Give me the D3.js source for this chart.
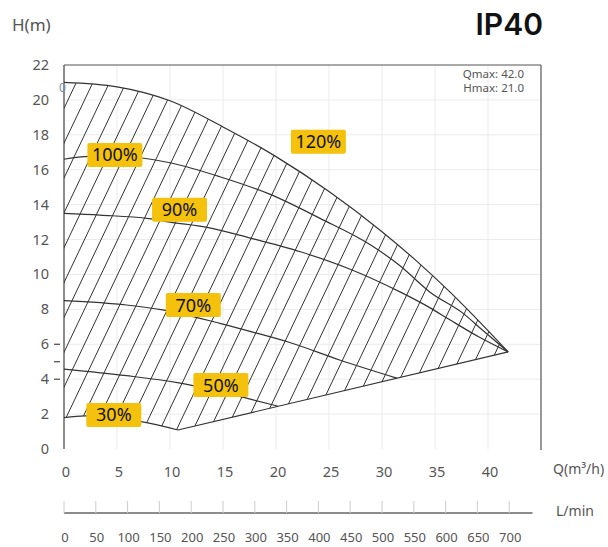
<script src="https://d3js.org/d3.v7.min.js"></script>

<html>
<head>
<style>
    body { margin: 0; background: #fff; }
    text { font-family: "Noto Sans", "Open Sans", sans-serif; }
</style>
</head>
<body>
<div id="myPlot"></div>
</body>
<script>

    const width = 608;
    const height = 547;

    // axis ticks
    const qTicks = [0, 5, 10, 15, 20, 25, 30, 35, 40];
    const hTicks = [0, 2, 4, 6, 8, 10, 12, 14, 16, 18, 20, 22];
    const lminTicks = [0, 50, 100, 150, 200, 250, 300, 350, 400, 450, 500, 550, 600, 650, 700];

    // speed curves, Q in m3/h and H in m
    const curve120Q = [0, 5, 10, 15, 20, 25, 30, 33.3, 36.4, 39.5, 41.9];
    const curve120H = [21.0, 20.75, 19.95, 18.45, 16.75, 14.75, 12.45, 10.75, 9.0, 7.1, 5.56];
    const curve100Q = [0, 2, 5, 7, 10, 14.7, 19.4, 24.2, 28.9, 31.7, 34.5, 37.6, 39.5, 41.9];
    const curve100H = [16.6, 16.75, 16.8, 16.7, 16.4, 15.6, 14.6, 13.2, 11.7, 10.5, 9.0, 7.8, 6.8, 5.56];
    const curve90Q = [0, 3.4, 8, 10, 13.5, 17.5, 22.3, 27, 31.7, 34.5, 36.4, 39.2, 41.9];
    const curve90H = [13.5, 13.4, 13.2, 13.0, 12.7, 12.1, 11.3, 10.3, 9.0, 8.1, 7.4, 6.4, 5.56];
    const curve70Q = [0, 5.9, 9.3, 14.7, 17.8, 21.3, 26, 31.4];
    const curve70H = [8.5, 8.25, 7.97, 7.2, 6.7, 6.1, 5.1, 4.06];
    const curve50Q = [0, 5.9, 10.7, 17.3, 20.2];
    const curve50H = [4.58, 4.2, 3.8, 2.9, 2.45];
    const curve30Q = [0, 2, 7.4, 10.75];
    const curve30H = [1.8, 1.9, 1.55, 1.09];
    // lower limit line
    const limitQ = [10.75, 41.9];
    const limitH = [1.09, 5.56];

    const labelNames = ['120%', '100%', '90%', '70%', '50%', '30%'];
    const labelQ = [24.0, 4.8, 10.9, 12.2, 14.8, 4.7];
    const labelH = [17.6, 16.85, 13.7, 8.25, 3.66, 1.95];

    const zip = (qs, hs) => qs.map((q, i) => [q, hs[i]]);

    const svg = d3.select("#myPlot").append("svg")
        .attr("width", width)
        .attr("height", height);

    const x = d3.scaleLinear().domain([0, 45]).range([64, 541]);
    const y = d3.scaleLinear().domain([0, 22]).range([449, 65]);

    // grid
    const grid = svg.append("g");
    grid.selectAll("line.v").data(qTicks.slice(1)).enter().append("line")
        .attr("x1", d => x(d)).attr("x2", d => x(d))
        .attr("y1", y(0)).attr("y2", y(22))
        .attr("stroke", "#ebebeb").attr("stroke-width", 1);
    grid.selectAll("line.h").data(hTicks.slice(1, -1)).enter().append("line")
        .attr("x1", x(0)).attr("x2", x(45))
        .attr("y1", d => y(d)).attr("y2", d => y(d))
        .attr("stroke", "#ebebeb").attr("stroke-width", 1);

    // frame
    svg.append("line").attr("x1", x(0)).attr("x2", x(45)).attr("y1", y(22)).attr("y2", y(22))
        .attr("stroke", "#555").attr("stroke-width", 1.2);
    svg.append("line").attr("x1", x(45)).attr("x2", x(45)).attr("y1", y(22)).attr("y2", y(0) + 1)
        .attr("stroke", "#555").attr("stroke-width", 1.2);
    svg.append("line").attr("x1", x(0)).attr("x2", x(0)).attr("y1", y(22)).attr("y2", y(0))
        .attr("stroke", "#666").attr("stroke-width", 1.5);

    // small ticks on y axis
    svg.selectAll("line.yt").data([4, 5, 6]).enter().append("line")
        .attr("x1", 54).attr("x2", 60)
        .attr("y1", d => y(d)).attr("y2", d => y(d))
        .attr("stroke", "#444").attr("stroke-width", 1.2);

    // y labels
    svg.selectAll("text.yl").data(hTicks).enter().append("text")
        .attr("x", 49).attr("y", d => y(d) + 5)
        .attr("text-anchor", "end")
        .attr("font-size", 14.5).attr("fill", "#555")
        .text(d => d);

    // x labels
    svg.selectAll("text.xl").data(qTicks).enter().append("text")
        .attr("x", d => x(d) + 2).attr("y", 477)
        .attr("text-anchor", "middle")
        .attr("font-size", 14.5).attr("fill", "#555")
        .text(d => d);

    svg.append("text").attr("x", 12).attr("y", 31)
        .attr("font-size", 17).attr("fill", "#555").text("H(m)");
    svg.append("text").attr("x", 553).attr("y", 474)
        .attr("font-size", 14).attr("fill", "#555").text("Q(m³/h)");
    svg.append("text").attr("x", 543).attr("y", 35).attr("text-anchor", "end")
        .style("font-family", "Inter, 'Noto Sans', sans-serif")
        .attr("font-size", 30).attr("font-weight", 600).attr("fill", "#111").text("IP40");
    svg.append("text").attr("x", 524).attr("y", 78).attr("text-anchor", "end")
        .attr("font-size", 11.5).attr("fill", "#555").text("Qmax: 42.0");
    svg.append("text").attr("x", 524).attr("y", 92).attr("text-anchor", "end")
        .attr("font-size", 11.5).attr("fill", "#555").text("Hmax: 21.0");
    svg.append("text").attr("x", 59).attr("y", 92)
        .attr("font-size", 12).attr("fill", "#7888a8").text("0");

    // L/min axis (same scale, 1 m3/h = 1000/60 L/min)
    const lmin = v => x(v * 60 / 1000);
    const lAxisY = 513;
    svg.append("line").attr("x1", lmin(0)).attr("x2", x(44.2)).attr("y1", lAxisY).attr("y2", lAxisY)
        .attr("stroke", "#666").attr("stroke-width", 1.3);
    svg.selectAll("line.lt").data(lminTicks).enter().append("line")
        .attr("x1", d => lmin(d)).attr("x2", d => lmin(d))
        .attr("y1", lAxisY - 12).attr("y2", lAxisY)
        .attr("stroke", "#ccc").attr("stroke-width", 1);
    svg.selectAll("text.ll").data(lminTicks).enter().append("text")
        .attr("x", d => lmin(d) + 1).attr("y", 542)
        .attr("text-anchor", "middle")
        .attr("font-size", 13).attr("fill", "#555")
        .text(d => d);
    svg.append("text").attr("x", 556).attr("y", 516)
        .attr("font-size", 14).attr("fill", "#555").text("L/min");

    // curves
    const line = d3.line().x(d => x(d[0])).y(d => y(d[1])).curve(d3.curveMonotoneX);
    const straight = d3.line().x(d => x(d[0])).y(d => y(d[1]));

    const curves = svg.append("g");
    const upperPath = curves.append("path").attr("d", line(zip(curve120Q, curve120H)));
    const lowerPath = curves.append("path").attr("d", line(zip(curve30Q, curve30H)));
    curves.append("path").attr("d", line(zip(curve100Q, curve100H)));
    curves.append("path").attr("d", line(zip(curve90Q, curve90H)));
    curves.append("path").attr("d", line(zip(curve70Q, curve70H)));
    curves.append("path").attr("d", line(zip(curve50Q, curve50H)));
    curves.append("path").attr("d", straight(zip(limitQ, limitH)));
    curves.selectAll("path")
        .attr("fill", "none").attr("stroke", "#333").attr("stroke-width", 1.2);

    // hatched region: sample the drawn boundary paths
    function sample(pathEl, n) {
        const len = pathEl.node().getTotalLength();
        const pts = [];
        for (let i = 0; i <= n; i++) {
            const p = pathEl.node().getPointAtLength(len * i / n);
            pts.push([p.x, p.y]);
        }
        return pts;
    }
    const poly = []
        .concat(sample(upperPath, 120))
        .concat([[x(limitQ[1]), y(limitH[1])], [x(limitQ[0]), y(limitH[0])]])
        .concat(sample(lowerPath, 40).reverse());

    svg.append("clipPath").attr("id", "region")
        .append("path")
        .attr("d", "M" + poly.map(p => p.join(",")).join("L") + "Z");

    const step = 16.6;
    const slope = 2.1;
    const hatchIdx = d3.range(-10, 45);
    svg.append("g").attr("clip-path", "url(#region)")
        .selectAll("line").data(hatchIdx).enter().append("line")
        .attr("x1", k => 70 + k * step - (460 - 270) / slope)
        .attr("y1", 460)
        .attr("x2", k => 70 + k * step + (270 - 40) / slope)
        .attr("y2", 40)
        .attr("stroke", "#333").attr("stroke-width", 1);

    // labels
    const labels = svg.append("g").selectAll("g").data(labelNames).enter().append("g")
        .attr("transform", (d, i) => "translate(" + x(labelQ[i]) + "," + y(labelH[i]) + ")");
    labels.append("rect")
        .attr("x", -27.5).attr("y", -12).attr("width", 55).attr("height", 24)
        .attr("rx", 2).attr("fill", "#f4c20d");
    labels.append("text")
        .attr("text-anchor", "middle").attr("y", 6.5)
        .attr("font-size", 18).attr("fill", "#111")
        .text(d => d);

</script>
</html>
